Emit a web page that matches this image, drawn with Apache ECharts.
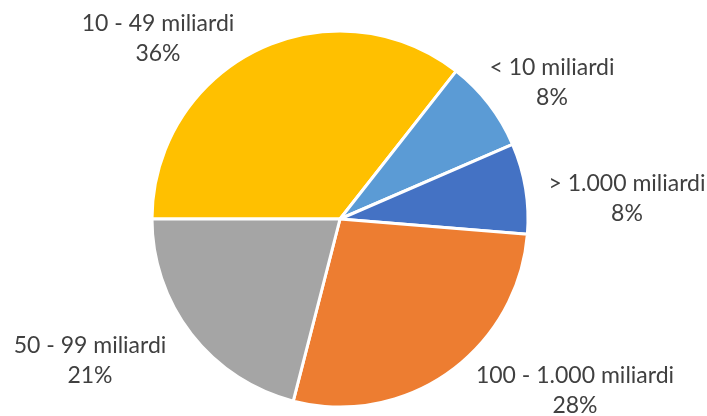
<!DOCTYPE html>
<html>
<head>
<meta charset="utf-8">
<script src="https://cdn.jsdelivr.net/npm/echarts@6/dist/echarts.min.js"></script>
<style>
html,body{margin:0;padding:0;background:#fff;}
#chart{width:707px;height:416px;}
</style>
</head>
<body>
<div id="chart"></div>
<script>
// Data (clockwise from 9 o'clock)
const categories = ['10 - 49 miliardi', '< 10 miliardi', '> 1.000 miliardi', '100 - 1.000 miliardi', '50 - 99 miliardi'];
const shares = [35.6, 7.9, 7.8, 27.7, 21.0];
const colors = ['#FFC000', '#5B9BD5', '#4472C4', '#ED7D31', '#A5A5A5'];

// Label placement (offset of label block centre from pie centre), layout only
const labelOffsets = [[-182, -180], [212, -136], [287, -20], [235, 172], [-250, 142]];
const pieCenter = [340, 219];

const chart = echarts.init(document.getElementById('chart'), null, {renderer: 'canvas'});
chart.setOption({
  animation: false,
  series: [{
    type: 'pie',
    center: pieCenter,
    radius: 188,
    startAngle: 180,
    clockwise: true,
    data: categories.map((c, i) => ({name: c, value: shares[i], itemStyle: {color: colors[i]}})),
    itemStyle: {borderColor: '#ffffff', borderWidth: 3},
    label: {
      show: true,
      position: 'outside',
      formatter: p => p.name + '\n' + Math.round(p.value) + '%',
      fontFamily: 'Lato',
      fontSize: 23,
      lineHeight: 30,
      color: '#404040',
      align: 'center',
      overflow: 'none',
      width: 260
    },
    labelLine: {show: false},
    labelLayout: function (params) {
      const o = labelOffsets[params.dataIndex];
      return {x: pieCenter[0] + o[0], y: pieCenter[1] + o[1], align: 'center', verticalAlign: 'middle', width: 260};
    },
    emphasis: {disabled: true}
  }]
});
</script>
</body>
</html>
